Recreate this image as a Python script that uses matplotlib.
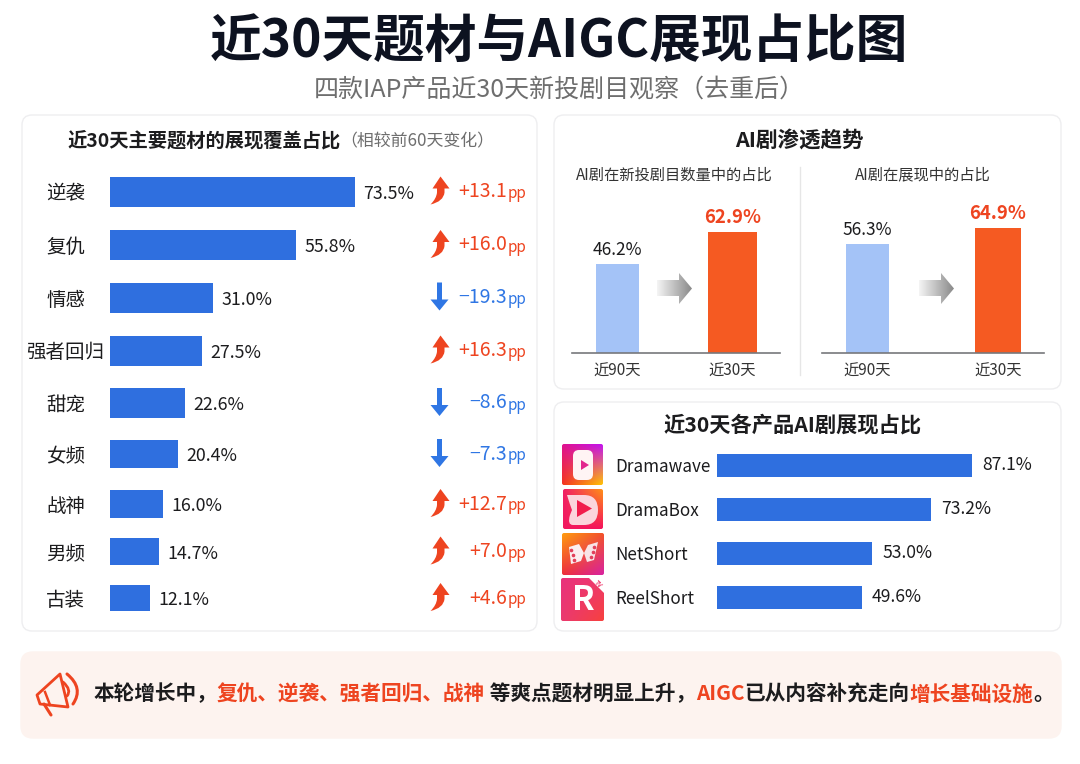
import numpy as np
import matplotlib
matplotlib.use("Agg")
import matplotlib.pyplot as plt
from matplotlib.patches import FancyBboxPatch, Polygon, PathPatch
from matplotlib.path import Path

plt.rcParams['font.family'] = ['Noto Sans CJK SC', 'DejaVu Sans']

# ---------- data ----------
themes = ['逆袭', '复仇', '情感', '强者回归', '甜宠', '女频', '战神', '男频', '古装']
theme_share = [73.5, 55.8, 31.0, 27.5, 22.6, 20.4, 16.0, 14.7, 12.1]
theme_delta = [13.1, 16.0, -19.3, 16.3, -8.6, -7.3, 12.7, 7.0, 4.6]
periods = ['近90天', '近30天']
new_title_share = [46.2, 62.9]
exposure_share = [56.3, 64.9]
products = ['Dramawave', 'DramaBox', 'NetShort', 'ReelShort']
product_share = [87.1, 73.2, 53.0, 49.6]

# ---------- styles / layout ----------
W, H = 1080, 764
BLUE = '#2f6fdf'; LIGHT = '#a4c3f7'; ORANGE = '#f55a22'; RED = '#ee4420'
INK = '#1c1c1e'; GREY = '#6e6e6e'; DOWN = '#2f76e4'
theme_rows = [191.5, 245, 297.5, 350.5, 403, 454, 504, 551.5, 598]
theme_heights = [30, 30, 30, 30, 30, 28, 28, 27, 26]
product_rows = [465, 509, 553, 597]

fig = plt.figure(figsize=(W / 100, H / 100), dpi=100, facecolor='white')
ov = fig.add_axes([0, 0, 1, 1], zorder=0)
ov.set_xlim(0, W); ov.set_ylim(H, 0); ov.axis('off'); ov.set_autoscale_on(False)
top = fig.add_axes([0, 0, 1, 1], zorder=5)
top.set_xlim(0, W); top.set_ylim(H, 0); top.axis('off'); top.set_autoscale_on(False)
top.patch.set_alpha(0)


def box_axes(x0, y0, x1, y1):
    a = fig.add_axes([x0 / W, 1 - y1 / H, (x1 - x0) / W, (y1 - y0) / H], zorder=3)
    a.patch.set_alpha(0)
    for s in a.spines.values():
        s.set_visible(False)
    return a


def panel(x0, y0, x1, y1, fc='white', ec='#eeeef0', r=10):
    ov.add_patch(FancyBboxPatch((x0 + r, y0 + r), x1 - x0 - 2 * r, y1 - y0 - 2 * r,
                                boxstyle=f'round,pad={r},rounding_size={r}', fc=fc, ec=ec, lw=1))


def gradient_fill(ax, clip, x0, y0, x1, y1, tl, tr, bl, br):
    c = [np.array(matplotlib.colors.to_rgb(k)) for k in (tl, tr, bl, br)]
    n = 40
    u, v = np.meshgrid(np.linspace(0, 1, n), np.linspace(0, 1, n))
    img = ((1 - u) * (1 - v))[..., None] * c[0] + (u * (1 - v))[..., None] * c[1] \
        + ((1 - u) * v)[..., None] * c[2] + (u * v)[..., None] * c[3]
    im = ax.imshow(img, extent=(x0, x1, y1, y0), origin='upper', aspect='auto',
                   interpolation='bilinear', zorder=2)
    ax.add_patch(clip)
    clip.set_visible(False)
    im.set_clip_path(clip)
    return im


def shape(points, **kw):
    top.add_patch(Polygon(points, closed=True, **kw))


def curve(verts, codes, **kw):
    top.add_patch(PathPatch(Path(verts, codes), **kw))


# ---------- panels and headings ----------
ov.text(559, 41, '近30天题材与AIGC展现占比图', fontsize=37.2, fontweight='bold', color='#0d1220',
        ha='center', va='center')
ov.text(559, 90, '四款IAP产品近30天新投剧目观察（去重后）', fontsize=18, color=GREY, ha='center', va='center')
panel(22, 115, 537, 631)
panel(554, 115, 1061, 389)
panel(554, 402, 1061, 631)
panel(21, 652, 1061, 738, fc='#fdf3ef', ec='#fdf3ef', r=12)

r = fig.canvas.get_renderer()
t1 = top.text(67, 141, '近30天主要题材的展现覆盖占比', fontsize=13.9, fontweight='bold', color=INK, va='center')
top.text(t1.get_window_extent(r).x1 + 0, 141, '（相较前60天变化）', fontsize=12.2, color=GREY, va='center')
top.text(799, 141, 'AI剧渗透趋势', fontsize=15.5, fontweight='bold', color=INK, ha='center', va='center')
top.text(674, 175, 'AI剧在新投剧目数量中的占比', fontsize=11, color='#333333', ha='center', va='center')
top.text(923, 175, 'AI剧在展现中的占比', fontsize=11, color='#333333', ha='center', va='center')
top.text(793, 425, '近30天各产品AI剧展现占比', fontsize=15.3, fontweight='bold', color=INK, ha='center', va='center')
ov.plot([800, 800], [167, 375], color='#e6e6e6', lw=1)

# ---------- main horizontal bars ----------
PX_PER_PCT = 245 / 73.5
ax = box_axes(110, 165, 110 + 100 * PX_PER_PCT, 625)
ax.set_xlim(0, 100); ax.set_ylim(625, 165)
ax.barh(theme_rows, theme_share, height=theme_heights, color=BLUE)
ax.set_xticks([])
ax.set_yticks(theme_rows, themes, fontsize=14, color=INK, fontweight='medium')
ax.tick_params(axis='y', length=0, pad=32)
for lab in ax.get_yticklabels():
    lab.set_ha('center')
for y, v in zip(theme_rows, theme_share):
    ax.annotate(f'{v:.1f}%', (v, y), xytext=(6, -1.5), textcoords='offset points',
                fontsize=12.8, color=INK, va='center', ha='left', fontweight='medium')


def up_arrow(cx, cy, color):
    v = [(cx + a, cy + b) for a, b in [(1, -14), (10, -2), (5, -2), (5, 2), (4, 11), (-9, 14),
                                       (-3, 8), (-2.5, 2), (-2.5, -2), (-7, -2), (1, -14)]]
    c = [Path.MOVETO, Path.LINETO, Path.LINETO, Path.LINETO, Path.CURVE3, Path.CURVE3,
         Path.CURVE3, Path.CURVE3, Path.LINETO, Path.LINETO, Path.CLOSEPOLY]
    curve(v, c, fc=color, ec='none')


def down_arrow(cx, cy, color):
    shape([(cx - 2.5, cy - 14), (cx + 2.5, cy - 14), (cx + 2.5, cy + 3), (cx + 9, cy + 3),
           (cx, cy + 14), (cx - 9, cy + 3), (cx - 2.5, cy + 3)], fc=color, ec='none')


for y, d in zip(theme_rows, theme_delta):
    col = RED if d > 0 else DOWN
    (up_arrow if d > 0 else down_arrow)(439.5, y - 1, col)
    pp = top.text(526, y + 2, 'pp', fontsize=11, color=col, ha='right', va='center', fontweight='medium')
    txt = f'{d:+.1f}'.replace('-', '−')
    top.text(pp.get_window_extent(r).x0, y, txt, fontsize=14, color=col, ha='right', va='center',
             fontweight='medium')

# ---------- AI penetration columns ----------


def columns(x0, x1, centers, widths, values):
    step = centers[1] - centers[0]
    a = box_axes(x0, 190, x1, 353)
    a.set_xlim((x0 - centers[0]) / step, (x1 - centers[0]) / step)
    a.set_ylim(0, 163 / 1.93)
    a.bar([0, 1], values, width=[w / step for w in widths], color=[LIGHT, ORANGE])
    a.spines['bottom'].set_visible(True)
    a.spines['bottom'].set_color('#77787c')
    a.spines['bottom'].set_linewidth(1.2)
    a.set_yticks([])
    a.set_xticks([0, 1], periods, fontsize=11, color='#333333')
    a.tick_params(axis='x', length=0, pad=7)
    for i, v in enumerate(values):
        a.annotate(f'{v:.1f}%', (i, v), xytext=(0, 3.5), textcoords='offset points',
                   ha='center', va='bottom', fontsize=12.5 if i == 0 else 13.4,
                   color=INK if i == 0 else RED, fontweight='medium' if i == 0 else 'bold')


columns(572, 780, [617.5, 732.5], [43, 49], new_title_share)
columns(822, 1044, [867.5, 998], [43, 46], exposure_share)


def grey_arrow(x0):
    pts = [(x0, 280), (x0 + 22, 280), (x0 + 22, 273), (x0 + 35, 288.5), (x0 + 22, 304),
           (x0 + 22, 296), (x0, 296)]
    clip = Polygon(pts, closed=True, transform=top.transData)
    gradient_fill(top, clip, x0, 270, x0 + 35, 306, '#f4f4f4', '#8a8a8a', '#f4f4f4', '#8a8a8a')


grey_arrow(657)
grey_arrow(919)

# ---------- product bars ----------
PX2 = 2.93
ax3 = box_axes(717, 445, 717 + 100 * PX2, 620)
ax3.set_xlim(0, 100); ax3.set_ylim(620, 445)
ax3.barh(product_rows, product_share, height=23, color=BLUE)
ax3.set_xticks([])
ax3.set_yticks(product_rows, products, fontsize=12.3, color=INK, fontweight='medium')
ax3.tick_params(axis='y', length=0, pad=73.5)
for lab in ax3.get_yticklabels():
    lab.set_ha('left')
for y, v in zip(product_rows, product_share):
    ax3.annotate(f'{v:.1f}%', (v, y), xytext=(7, 0), textcoords='offset points',
                 fontsize=12.6, color=INK, va='center', ha='left', fontweight='medium')


def logo(x0, y0, size, tl, tr, bl, br):
    clip = FancyBboxPatch((x0 + 2, y0 + 2), size - 4, size - 4, boxstyle='round,pad=2,rounding_size=2',
                          transform=top.transData)
    gradient_fill(top, clip, x0, y0, x0 + size, y0 + size, tl, tr, bl, br)


# Dramawave
logo(562, 444, 41, '#e0128f', '#c214ee', '#f4341e', '#ffc205')
top.add_patch(FancyBboxPatch((577, 454), 12, 22, boxstyle='round,pad=4,rounding_size=6', fc='#fff4f4', ec='none', zorder=4))
shape([(581, 460), (589, 465), (581, 470)], fc='#e2278e', ec='none', zorder=5)
# DramaBox
logo(563, 489, 40, '#f01f66', '#ff8f18', '#f2195f', '#f5125c')
curve([(569, 495), (584, 495), (598, 495), (598, 510), (598, 525), (584, 525), (573, 525), (567, 525), (570, 515), (572, 510), (570, 505), (567, 495), (569, 495)],
      [Path.MOVETO, Path.LINETO, Path.CURVE3, Path.CURVE3, Path.CURVE3, Path.CURVE3, Path.LINETO, Path.CURVE3, Path.CURVE3, Path.LINETO, Path.CURVE3, Path.CURVE3, Path.CLOSEPOLY],
      fc='#fbd5dc', ec='none', zorder=4)
shape([(577, 500), (592, 508.5), (577, 517)], fc='#f11d4c', ec='none', zorder=5)
# NetShort
logo(562, 533, 42, '#ff9c10', '#f2512a', '#ee2e3a', '#d824a0')
shape([(569, 547), (579, 544), (584, 553), (581, 561), (571, 564)], fc='#fbeff0', ec='none', zorder=4)
shape([(598, 542), (588, 545), (584, 553), (587, 562), (594, 560)], fc='#f8e4e6', ec='none', zorder=4)
top.plot([571, 572.5, 574], [550, 555, 560], ls='none', marker='o', ms=1.6, color='#e2405a', zorder=6)
top.plot([594, 592.5, 591], [547, 552, 557], ls='none', marker='o', ms=1.6, color='#e2405a', zorder=6)
# ReelShort
logo(561, 578, 43, '#e9317c', '#ee3a6d', '#ea3a70', '#f7413e')
shape([(588, 577), (605, 577), (605, 594)], fc='white', ec='none', zorder=4)
top.text(598, 584, 'TV', fontsize=4.5, fontweight='bold', color='#ee3a6d', ha='center', va='center',
         rotation=-45, zorder=5)
top.text(583, 600, 'R', fontsize=24, fontweight='black', color='white', ha='center', va='center', zorder=5)

# ---------- banner ----------
segments = [('本轮增长中，', INK), ('复仇、逆袭、强者回归、战神', RED), (' 等爽点题材明显上升，', INK),
            ('AIGC', RED), ('已从内容补充走向', INK), ('增长基础设施', RED), ('。', INK)]
x = 93
for s, col in segments:
    t = top.text(x, 694, s, fontsize=14.9, fontweight='bold', color=col, va='center', ha='left')
    x = t.get_window_extent(r).x1

# megaphone
top.add_patch(Polygon([(37, 695), (60, 674), (68, 707), (40, 704)], closed=True, fc='none', ec=RED, lw=2.0, joinstyle='round'))
top.plot([45, 50], [692, 705], color=RED, lw=1.8)
top.plot([44, 51], [704, 715], color=RED, lw=2.2, solid_capstyle='round')
curve([(67, 674), (84, 688), (73, 704)], [Path.MOVETO, Path.CURVE3, Path.CURVE3], fc='none', ec=RED, lw=2.2, capstyle='round')
curve([(63, 682), (72, 690), (67, 696)], [Path.MOVETO, Path.CURVE3, Path.CURVE3], fc='none', ec=RED, lw=2, capstyle='round')

fig.savefig('out.png', dpi=100)
